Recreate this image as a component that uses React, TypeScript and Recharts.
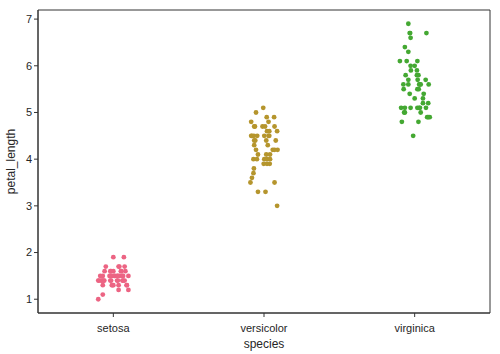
import React from "react";
import { ScatterChart, Scatter, XAxis, YAxis, ReferenceArea, Label } from "recharts";

const species = ["setosa", "versicolor", "virginica"];
const yTicks = [1, 2, 3, 4, 5, 6, 7];
const colors = ["#ec6483", "#b5952d", "#44a832"];

const setosaValues = [
  1.9, 1.9,
  1.7, 1.7, 1.7, 1.7,
  1.6, 1.6, 1.6, 1.6, 1.6, 1.6, 1.6,
  1.5, 1.5, 1.5, 1.5, 1.5, 1.5, 1.5, 1.5, 1.5, 1.5, 1.5, 1.5, 1.5,
  1.4, 1.4, 1.4, 1.4, 1.4, 1.4, 1.4, 1.4, 1.4, 1.4, 1.4, 1.4, 1.4,
  1.3, 1.3, 1.3, 1.3, 1.3, 1.3, 1.3,
  1.2, 1.2,
  1.1,
  1.0,
];
const setosaJitter = [
  0.0, 0.07,
  -0.05, 0.035, 0.075, 0.04,
  -0.058, -0.02, 0.0, 0.053, 0.08, -0.015, 0.05,
  -0.087, -0.07, -0.025, -0.01, 0.01, 0.025, 0.04, 0.06, 0.1, -0.02, 0.005, 0.03, 0.065,
  -0.1, -0.08, -0.065, -0.02, 0.025, 0.06, 0.075, -0.095, -0.075, -0.06, -0.015, 0.03, 0.065,
  -0.07, -0.01, 0.0, 0.035, 0.09, 0.088, -0.005,
  0.035, 0.1,
  -0.07,
  -0.1,
];

const versicolorValues = [
  5.1,
  5.0,
  4.9, 4.9,
  4.8, 4.8,
  4.7, 4.7, 4.7, 4.7, 4.7,
  4.6, 4.6, 4.6,
  4.5, 4.5, 4.5, 4.5, 4.5, 4.5, 4.5,
  4.4, 4.4, 4.4, 4.4,
  4.3, 4.3,
  4.2, 4.2, 4.2, 4.2,
  4.1, 4.1, 4.1,
  4.0, 4.0, 4.0, 4.0, 4.0,
  3.9, 3.9, 3.9,
  3.8,
  3.7,
  3.6,
  3.5, 3.5,
  3.3, 3.3,
  3.0,
];
const versicolorJitter = [
  -0.005,
  -0.053,
  0.018, 0.067,
  -0.085, 0.03,
  -0.065, -0.06, -0.01, 0.007, 0.07,
  0.02, 0.035, 0.087,
  -0.085, -0.067, -0.045, 0.002, 0.03, -0.08, 0.035,
  -0.065, -0.058, 0.015, 0.078,
  -0.065, 0.025,
  -0.053, 0.058, 0.07, 0.09,
  -0.04, 0.015, 0.04,
  -0.07, -0.047, 0.002, 0.02, 0.04,
  -0.002, 0.02, 0.038,
  -0.067,
  -0.07,
  -0.08,
  -0.09, 0.07,
  -0.04, 0.01,
  0.087,
];

const virginicaValues = [
  6.9,
  6.7, 6.7, 6.7,
  6.6,
  6.4,
  6.3,
  6.1, 6.1, 6.1,
  6.0, 6.0,
  5.9, 5.9,
  5.8, 5.8, 5.8,
  5.7, 5.7, 5.7,
  5.6, 5.6, 5.6, 5.6, 5.6, 5.6,
  5.5, 5.5, 5.5,
  5.4, 5.4,
  5.3, 5.3,
  5.2, 5.2,
  5.1, 5.1, 5.1, 5.1, 5.1, 5.1, 5.1,
  5.0, 5.0, 5.0,
  4.9, 4.9, 4.9,
  4.8, 4.8,
  4.5,
];
const virginicaJitter = [
  -0.042,
  -0.033, 0.078, -0.03,
  -0.027,
  -0.065,
  -0.042,
  -0.098, -0.053, 0.018,
  -0.027, 0.0,
  -0.025, 0.015,
  -0.06, 0.015, 0.025,
  -0.042, 0.02, 0.073,
  -0.075, -0.042, 0.03, 0.04, 0.093, 0.035,
  -0.073, 0.018, 0.027,
  -0.033, 0.06,
  0.0, 0.055,
  0.055, 0.09,
  -0.09, -0.065, -0.027, 0.018, 0.035, 0.075, 0.03,
  -0.07, -0.065, 0.04,
  0.083, 0.1, 0.09,
  -0.085, 0.025,
  -0.01,
];

const groups = [
  { values: setosaValues, jitter: setosaJitter },
  { values: versicolorValues, jitter: versicolorJitter },
  { values: virginicaValues, jitter: virginicaJitter },
];

const seriesData = groups.map((g, i) =>
  g.values.map((v, k) => ({ x: i + g.jitter[k], y: v }))
);

const font = "Liberation Sans, Arial, sans-serif";
const textColor = "#262626";
const spine = "#333333";

const Dot = (color: string) => (props: any) => {
  const { cx, cy } = props;
  if (cx == null || cy == null) return null;
  return <circle cx={cx} cy={cy} r={2.4} fill={color} stroke="none" />;
};

export default function App() {
  return (
    <div style={{ position: "absolute", left: 0, top: 0, width: 500, height: 354, background: "#fff" }}>
      <ScatterChart width={500} height={354} margin={{ top: 10, right: 10, left: 0, bottom: 0 }}>
        <XAxis
          type="number"
          dataKey="x"
          domain={[-0.5, 2.5]}
          ticks={[0, 1, 2]}
          tickFormatter={(v: number) => species[Math.round(v)]}
          allowDataOverflow
          height={41}
          stroke={spine}
          tickLine={{ stroke: spine }}
          tickSize={4}
          tickMargin={7}
          tick={{ fill: textColor, fontSize: 11, fontFamily: font }}
          interval={0}
        >
          <Label value="species" position="insideBottom" offset={6} style={{ fill: textColor, fontSize: 12, fontFamily: font }} />
        </XAxis>
        <YAxis
          type="number"
          dataKey="y"
          domain={[0.705, 7.195]}
          ticks={yTicks}
          allowDataOverflow
          width={38}
          stroke={spine}
          tickLine={{ stroke: spine }}
          tickSize={4}
          tick={{ fill: textColor, fontSize: 11, fontFamily: font }}
          interval={0}
        >
          <Label value="petal_length" angle={-90} position="insideLeft" offset={11} style={{ fill: textColor, fontSize: 12, fontFamily: font, textAnchor: "middle" }} />
        </YAxis>
        <ReferenceArea x1={-0.5} x2={2.5} y1={0.705} y2={7.195} fill="none" stroke={spine} strokeWidth={1} ifOverflow="visible" />
        {seriesData.map((d, i) => (
          <Scatter key={species[i]} data={d} shape={Dot(colors[i])} isAnimationActive={false} />
        ))}
      </ScatterChart>
    </div>
  );
}
